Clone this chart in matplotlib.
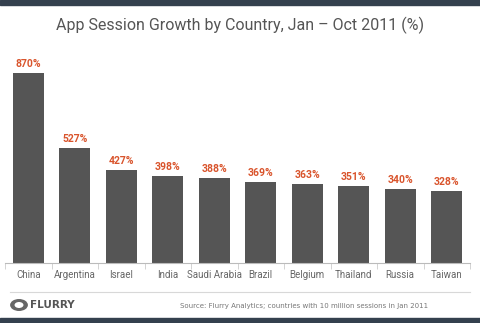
import matplotlib
matplotlib.use("Agg")
import matplotlib.pyplot as plt
from matplotlib.patches import Rectangle, Circle
from matplotlib import font_manager

countries = ["China", "Argentina", "Israel", "India", "Saudi Arabia", "Brazil",
             "Belgium", "Thailand", "Russia", "Taiwan"]
growth = [870, 527, 427, 398, 388, 369, 363, 351, 340, 328]
labels = [f"{v}%" for v in growth]

names = {f.name for f in font_manager.fontManager.ttflist}
narrow = "Liberation Sans Narrow" if "Liberation Sans Narrow" in names else "Roboto"

W, H = 480, 323
fig = plt.figure(figsize=(W / 100, H / 100), dpi=100)
fig.patch.set_facecolor("white")

fig.patches.append(Rectangle((0, 1 - 5 / H), 1, 5 / H, transform=fig.transFigure,
                             color="#34404e", zorder=0))
fig.patches.append(Rectangle((0, 0), 1, 5 / H, transform=fig.transFigure,
                             color="#34404e", zorder=0))
fig.lines.append(plt.Line2D([0.02, 0.98], [1 - 292 / H] * 2, transform=fig.transFigure,
                            color="#d8d8d8", lw=0.8))

ax = fig.add_axes([5 / W, 1 - 263 / H, 465 / W, (263 - 40) / H])
x = range(len(countries))
ax.bar(x, growth, width=0.66, color="#555555", zorder=2)
ax.set_xlim(-0.5, len(countries) - 0.5)
ax.set_ylim(0, 870 * 223 / 190)
for i, (v, lab) in enumerate(zip(growth, labels)):
    ax.text(i, v + 18, lab, ha="center", va="bottom", color="#d9542c",
            fontsize=7.5, fontweight="bold", family="Roboto")
for s in ["top", "right", "left"]:
    ax.spines[s].set_visible(False)
ax.spines["bottom"].set_color("#bbbbbb")
ax.set_yticks([])
ax.set_xticks([i + 0.5 for i in range(-1, len(countries))], minor=True)
ax.tick_params(axis="x", which="minor", length=4, color="#cccccc")
ax.set_xticks(list(x))
ax.set_xticklabels(countries, fontsize=7, color="#666666", family="Roboto")
ax.tick_params(axis="x", which="major", length=0, pad=5)

fig.text(0.5, 1 - 25 / H, "App Session Growth by Country, Jan \u2013 Oct 2011 (%)",
         ha="center", va="center", fontsize=13.5 if narrow != "Roboto" else 11.5,
         color="#555555", family=narrow)

# footer
fig.patches.append(Circle((19 / W, 1 - 305 / H), 6 / H, transform=fig.transFigure,
                          facecolor="#666666", edgecolor="none"))
fig.patches.append(Circle((19 / W, 1 - 305 / H), 3 / H, transform=fig.transFigure,
                          facecolor="white", edgecolor="none"))
fig.text(30 / W, 1 - 305 / H, "FLURRY", ha="left", va="center", fontsize=7.5,
         fontweight="bold", color="#555555", family="DejaVu Sans")
fig.text(180 / W, 1 - 306 / H,
         "Source: Flurry Analytics; countries with 10 million sessions in Jan 2011",
         ha="left", va="center", fontsize=5, color="#777777", family="DejaVu Sans")

fig.savefig("out.png", dpi=100, facecolor="white")
